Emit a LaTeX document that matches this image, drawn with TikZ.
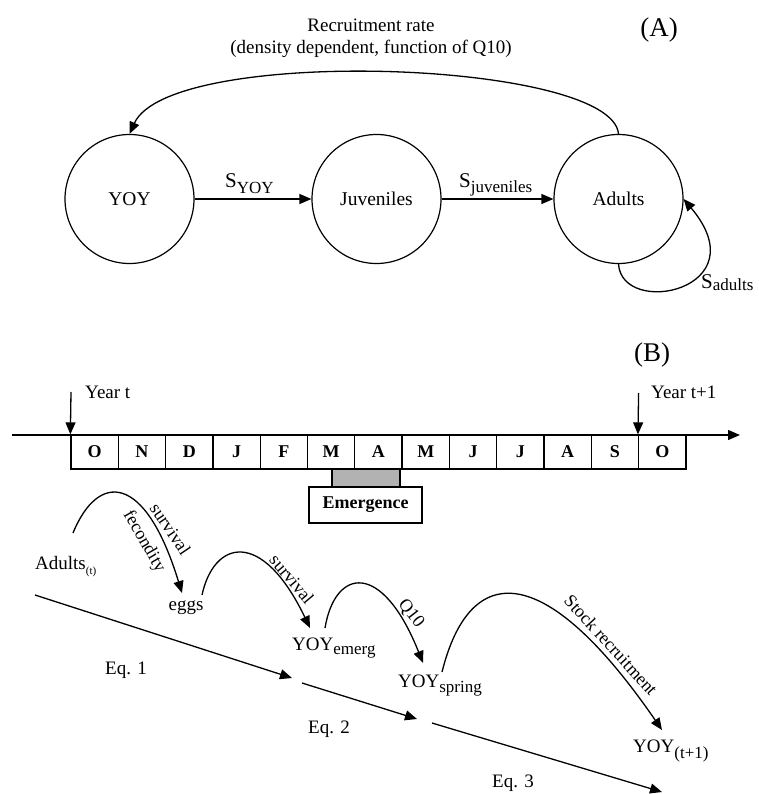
\documentclass[tikz,border=0pt]{standalone}
\usepackage{fontspec}
\setmainfont{Liberation Serif}
\usetikzlibrary{arrows.meta}
\newcommand\fsz[1]{\fontsize{#1}{#1}\selectfont}
\begin{document}
\begin{tikzpicture}[x=1pt,y=-1pt,
  stage/.style={circle,draw,line width=1.2pt,minimum size=129pt,inner sep=0pt,font=\fsz{19.5}},
  arr/.style={-{Triangle[length=12pt,width=10pt]},line width=1.3pt},
  month/.style={draw,line width=1.3pt,minimum width=47.3pt,minimum height=34pt,inner sep=0pt,font=\fsz{18}\bfseries},
  lbl/.style={inner sep=0pt,font=\fsz{19}},
  arclbl/.style={inner sep=0pt,font=\fsz{18}},
  panel/.style={inner sep=0pt,font=\fsz{27}}]
\useasboundingbox (0,0) rectangle (759,794);

% ---------- (A) life-cycle graph ----------
\node[stage] (yoy) at (129.5,199) {YOY};
\node[stage] (juv) at (376.5,199) {Juveniles};
\node[stage] (adults) at (618.5,199) {Adults};

\draw[arr] (yoy.east) -- (juv.west);
\draw[arr] (juv.east) -- (adults.west);
\node[lbl,anchor=base west] (syoy) at (225,188) {{\fsz{21}S}\raisebox{-6pt}{\fsz{17}YOY}};
\node[lbl,anchor=base west] (sjuv) at (459,188) {{\fsz{21}S}\raisebox{-5pt}{\fsz{17}juveniles}};

\draw[arr] (adults.north) .. controls (612,60) and (170,45) .. (yoy.north);
\node[lbl] (rr1) at (371,25) {Recruitment rate};
\node[lbl] (rr2) at (371,49) {(density dependent, function of Q10)};

\draw[arr] (adults.south) .. controls (622,318) and (760,290) .. (adults.east);
\node[lbl,anchor=base west] (sad) at (701,288) {{\fsz{21}S}\raisebox{-2pt}{\fsz{17}adults}};

\node[panel] (pa) at (659,30) {(A)};

% ---------- (B) seasonal timeline ----------
\node[panel] (pb) at (652,355) {(B)};

\coordinate (tl0) at (12,435);
\coordinate (tl1) at (740,435);
\draw[arr] (tl0) -- (tl1);

\foreach \m [count=\i from 0] in {O,N,D,J,F,M,A,M,J,J,A,S,O}
  \node[month] (m\i) at ({94.65+47.3*\i},452) {\m};

\coordinate (yt0) at (71,392);
\draw[arr] (yt0) -- (m0.north west);
\node[lbl,anchor=base west] (yeart) at (85,398) {Year t};
\coordinate (yt1) at (638.6,393);
\draw[arr] (yt1) -- (m12.north west);
\node[lbl,anchor=base west] (yeart1) at (651,398) {Year t+1};

\node[draw,fill=gray!60,line width=1.3pt,minimum width=68pt,minimum height=18pt,inner sep=0pt] (bar) at (366,478) {};
\node[draw,fill=white,line width=1.3pt,minimum width=113pt,minimum height=36pt,inner sep=0pt,font=\fsz{18}\bfseries] (emer) at (365.5,505) {Emergence};

% ---------- stage sequence ----------
\node[lbl,anchor=base west] (adt) at (35,569) {Adults\raisebox{-5pt}{\fsz{11}(t)}};
\node[lbl,anchor=base] (eggs) at (186,610) {eggs};
\node[lbl,anchor=base west] (yem) at (292,650) {YOY\raisebox{-4pt}{\fsz{17}emerg}};
\node[lbl,anchor=base west] (ysp) at (398,687) {YOY\raisebox{-5pt}{\fsz{17}spring}};
\node[lbl,anchor=base west] (ynx) at (633,752) {YOY\raisebox{-6pt}{\fsz{17}(t+1)}};

% hops between stages
\coordinate (h1a) at (73,533);  \coordinate (h1b) at (182,593);
\coordinate (h2a) at (202,595); \coordinate (h2b) at (310,628);
\coordinate (h3a) at (325,628); \coordinate (h3b) at (423,663);
\coordinate (h4a) at (442,672); \coordinate (h4b) at (662,730);
\draw[arr] (h1a) .. controls (98,472) and (145,472) .. (h1b);
\draw[arr] (h2a) .. controls (214,540) and (262,528) .. (h2b);
\draw[arr] (h3a) .. controls (335,568) and (382,560) .. (h3b);
\draw[arr] (h4a) .. controls (470,560) and (545,560) .. (h4b);

\node[arclbl,rotate=-56] (l1) at (170.5,529) {survival};
\node[arclbl,rotate=-60] (l2) at (144,541.5) {fecondity};
\node[arclbl,rotate=-50] (l3) at (292,579) {survival};
\node[arclbl,rotate=-52] (l4) at (411,614) {Q10};
\node[arclbl,rotate=-47.6] (l5) at (611,645) {Stock recruitment};

% equation spans
\coordinate (e1a) at (35,595);  \coordinate (e1b) at (292,678);
\coordinate (e2a) at (302,683); \coordinate (e2b) at (417,719);
\coordinate (e3a) at (432,723); \coordinate (e3b) at (662,792);
\draw[arr] (e1a) -- (e1b);
\draw[arr] (e2a) -- (e2b);
\draw[arr] (e3a) -- (e3b);
\node[lbl] (eq1) at (126,670) {Eq. 1};
\node[lbl] (eq2) at (329,729) {Eq. 2};
\node[lbl] (eq3) at (513,783) {Eq. 3};
\end{tikzpicture}
\end{document}
